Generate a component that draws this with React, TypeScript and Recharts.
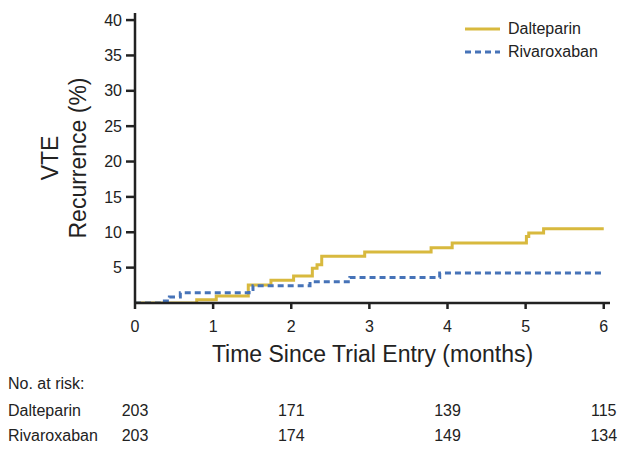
import { LineChart, Line, XAxis, YAxis } from "recharts";

// Kaplan-Meier style cumulative incidence
const dalteparinTimes = [0, 0.79, 1.04, 1.45, 1.74, 2.03, 2.27, 2.33, 2.39, 2.94, 3.79, 4.06, 5.01, 5.04, 5.23, 6];
const dalteparinValues = [0, 0.45, 1.0, 2.55, 3.2, 3.8, 4.9, 5.4, 6.6, 7.2, 7.8, 8.5, 9.4, 9.9, 10.5, 10.5];
const rivaroxabanTimes = [0, 0.33, 0.44, 0.58, 1.46, 1.51, 2.24, 2.75, 3.9, 5.97];
const rivaroxabanValues = [0, 0.3, 0.85, 1.45, 1.9, 2.45, 3.0, 3.6, 4.25, 4.25];

const xTicks = [0, 1, 2, 3, 4, 5, 6];
const yTicks = [5, 10, 15, 20, 25, 30, 35, 40];

const riskMonths = [0, 2, 4, 6];
const dalteparinAtRisk = [203, 171, 139, 115];
const rivaroxabanAtRisk = [203, 174, 149, 134];

const YELLOW = "#D8B93E";
const BLUE = "#4673B8";
const INK = "#222";
const FONT = "'Liberation Sans', Arial, sans-serif";

const W = 632;
const H = 457;
const M = { top: 13, right: 22, left: 0, bottom: 94 };
const Y_AXIS_W = 135;
const X_MAX = 6.08;

const dalteparin = dalteparinTimes.map((t, i) => ({ t, v: dalteparinValues[i] }));
const rivaroxaban = rivaroxabanTimes.map((t, i) => ({ t, v: rivaroxabanValues[i] }));

const plotLeft = M.left + Y_AXIS_W;
const plotWidth = W - plotLeft - M.right;
const xPos = (m: number) => plotLeft + (m / X_MAX) * plotWidth;

function LegendBox() {
  return (
    <div style={{ position: "absolute", left: 465, top: 17, fontFamily: FONT, fontSize: 16, color: INK }}>
      <div style={{ display: "flex", alignItems: "center", height: 23 }}>
        <svg width={43} height={6}>
          <line x1={0} y1={3} x2={35} y2={3} stroke={YELLOW} strokeWidth={3} />
        </svg>
        <span>Dalteparin</span>
      </div>
      <div style={{ display: "flex", alignItems: "center", height: 23 }}>
        <svg width={43} height={6}>
          <line x1={0} y1={3} x2={35} y2={3} stroke={BLUE} strokeWidth={3} strokeDasharray="6 4" />
        </svg>
        <span>Rivaroxaban</span>
      </div>
    </div>
  );
}

function YLabel() {
  return (
    <g transform="translate(64, 158) rotate(-90)" fontFamily={FONT} fontSize={23} fill={INK}>
      <text x={0} y={-6} textAnchor="middle">VTE</text>
      <text x={0} y={22} textAnchor="middle">Recurrence (%)</text>
    </g>
  );
}

export default function App() {
  const rowStyle = (top: number) => ({
    position: "absolute" as const,
    top,
    left: 0,
    width: W,
    height: 20,
    fontFamily: FONT,
    fontSize: 16,
    color: INK,
  });

  return (
    <div style={{ position: "absolute", left: 0, top: 0, width: W, height: H, background: "#fff" }}>
      <LineChart width={W} height={H} margin={M}>
        <XAxis
          type="number"
          dataKey="t"
          domain={[0, X_MAX]}
          ticks={xTicks}
          allowDataOverflow
          tickSize={6}
          tickMargin={12}
          stroke={INK}
          strokeWidth={2.5}
          tick={{ fill: INK, fontSize: 16, fontFamily: FONT }}
          height={60}
          label={{
            value: "Time Since Trial Entry (months)",
            position: "insideBottom",
            offset: 1,
            fill: INK,
            fontSize: 23,
            fontFamily: FONT,
          }}
        />
        <YAxis
          type="number"
          domain={[0, 41]}
          ticks={yTicks}
          allowDataOverflow
          width={Y_AXIS_W}
          tickSize={9}
          tickMargin={4}
          stroke={INK}
          strokeWidth={2.5}
          tick={{ fill: INK, fontSize: 16, fontFamily: FONT }}
        />
        <Line
          data={dalteparin}
          dataKey="v"
          name="Dalteparin"
          type="stepAfter"
          stroke={YELLOW}
          strokeWidth={3}
          dot={false}
          isAnimationActive={false}
        />
        <Line
          data={rivaroxaban}
          dataKey="v"
          name="Rivaroxaban"
          type="stepAfter"
          stroke={BLUE}
          strokeWidth={3}
          strokeDasharray="6 4"
          dot={false}
          isAnimationActive={false}
        />
        <YLabel />
      </LineChart>

      <LegendBox />

      <div style={rowStyle(375)}>
        <span style={{ position: "absolute", left: 8 }}>No. at risk:</span>
      </div>
      <div style={rowStyle(402)}>
        <span style={{ position: "absolute", left: 8 }}>Dalteparin</span>
        {dalteparinAtRisk.map((n, i) => (
          <span key={i} style={{ position: "absolute", left: xPos(riskMonths[i]) - 30, width: 60, textAlign: "center" }}>
            {n}
          </span>
        ))}
      </div>
      <div style={rowStyle(427)}>
        <span style={{ position: "absolute", left: 8 }}>Rivaroxaban</span>
        {rivaroxabanAtRisk.map((n, i) => (
          <span key={i} style={{ position: "absolute", left: xPos(riskMonths[i]) - 30, width: 60, textAlign: "center" }}>
            {n}
          </span>
        ))}
      </div>
    </div>
  );
}
